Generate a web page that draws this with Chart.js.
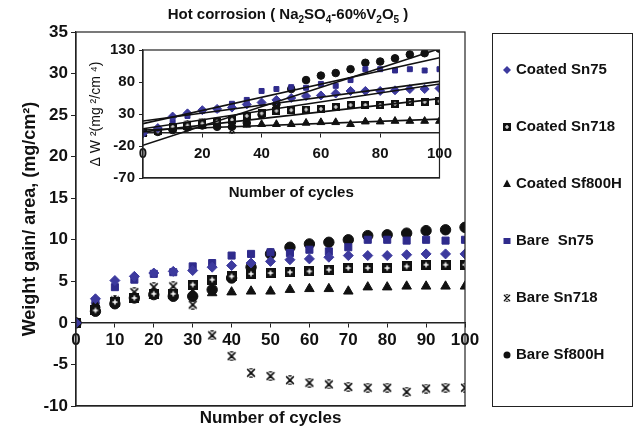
<!DOCTYPE html>
<html><head><meta charset="utf-8">
<script src="https://cdn.jsdelivr.net/npm/chart.js@4"></script>
<style>
html,body{margin:0;padding:0;background:#fff;}
#wrap{position:relative;width:638px;height:432px;overflow:hidden;background:#fff;}
#main{position:absolute;left:0;top:0;}
#inset{position:absolute;left:85px;top:37px;}
</style></head><body>
<div id="wrap"><canvas id="main" width="638" height="432"></canvas><canvas id="inset" width="375" height="168"></canvas></div>
<script>
// ---------- data ----------
const cycles = [0,5,10,15,20,25,30,35,40,45,50,55,60,65,70,75,80,85,90,95,100];
const seriesNames = ['Coated Sn75','Coated Sn718','Coated Sf800H','Bare  Sn75','Bare Sn718','Bare Sf800H'];
// main chart: weight gain / area (mg/cm2)
const coatedSn75   = [0,2.9,5.1,5.6,6.0,6.2,6.3,6.7,6.9,7.2,7.4,7.6,7.7,7.9,8.1,8.1,8.1,8.2,8.3,8.3,8.3];
const coatedSn718  = [0,1.5,2.5,3.0,3.5,3.5,4.6,5.2,5.6,5.9,6.0,6.1,6.2,6.4,6.6,6.6,6.6,6.8,7.0,7.0,7.0];
const coatedSf800H = [0,2.2,2.6,3.0,3.3,3.3,3.5,3.6,3.7,3.8,3.8,4.0,4.1,4.1,3.8,4.3,4.3,4.4,4.4,4.4,4.4];
const bareSn75     = [0,2.6,4.3,5.2,5.9,6.1,6.8,7.2,8.1,8.3,8.5,8.4,8.8,8.6,9.1,10.0,10.0,9.9,10.0,9.9,10.0];
const bareSn718    = [0,2.0,2.7,3.7,4.3,4.4,2.2,-1.5,-4.0,-6.0,-6.4,-6.9,-7.2,-7.4,-7.7,-7.8,-7.8,-8.3,-7.9,-7.8,-7.8];
const bareSf800H   = [0,1.4,2.3,3.0,3.4,3.2,3.2,4.0,5.4,6.7,8.3,9.1,9.5,9.7,10.0,10.5,10.6,10.8,11.1,11.2,11.5];
// inset: ΔW² (mg²/cm⁴)
const insCoatedSn75   = [0,8,26,31,36,38,40,45,48,52,55,58,59,62,66,66,66,67,69,69,70];
const insCoatedSn718  = [0,3,10,12,15,18,21,27,31,35,36,37,38,41,44,44,44,46,49,49,50];
const insCoatedSf800H = [0,5,7,9,11,12,12,13,14,14,14,16,17,17,14,18,18,19,19,19,19];
const insBareSn75     = [0,7,18,27,35,37,46,52,66,69,72,71,77,74,83,100,100,98,100,98,100];
const insBareSn718    = [0,4,7,14,18,19,5];
const insBareSf800H   = [0,2,5,9,12,10,10,16,29,45,69,83,90,94,100,110,112,117,123,125,132];
// inset trend lines (value at 0 and at 100 cycles)
const trendStart = [19, 2, 5, 15, 7, -19];
const trendEnd   = [81, 54, 22, 118, 77, 132];
const mainTicksY = {min:-10, max:35, step:5};
const insetTicksY = {min:-70, max:130, step:50};

// ---------- styles ----------
const FONT = "'Liberation Sans', Arial, Helvetica, sans-serif";
Chart.defaults.font.family = FONT;
Chart.defaults.color = '#111';
const BLUE1 = '#3d3a9e', BLUE2 = '#2f2b8c', BLK = '#111';

function makeSqPlus(s){
  const c=document.createElement('canvas'); c.width=c.height=s;
  const g=c.getContext('2d'); g.fillStyle=BLK; g.fillRect(0,0,s,s);
  g.strokeStyle='#fff'; g.lineWidth=Math.max(1.2,s/7);
  g.beginPath(); g.moveTo(s*0.25,s/2); g.lineTo(s*0.75,s/2);
  g.moveTo(s/2,s*0.25); g.lineTo(s/2,s*0.75); g.stroke(); return c;
}
function makeAst(s,lw){
  const c=document.createElement('canvas'); c.width=c.height=s;
  const g=c.getContext('2d'); g.strokeStyle=BLK; g.lineWidth=lw; g.lineCap='round';
  const m=lw;
  g.beginPath(); g.moveTo(m,m); g.lineTo(s-m,s-m); g.moveTo(s-m,m); g.lineTo(m,s-m); g.stroke();
  g.lineWidth=lw*0.8;
  g.beginPath(); g.moveTo(s*0.38,lw*0.5); g.lineTo(s*0.62,lw*0.5);
  g.moveTo(s*0.38,s-lw*0.5); g.lineTo(s*0.62,s-lw*0.5);
  g.stroke(); return c;
}
const pts = arr => arr.map((v,i)=>({x:cycles[i], y:v}));

function scat(label, data, style, color, r){
  return {label, data:pts(data), pointStyle:style, pointRadius:r, pointHoverRadius:r,
    backgroundColor:color, borderColor:color, borderWidth:1, showLine:false, xAxisID:'x', yAxisID:'y'};
}

// ---------- main chart ----------
const mainSets = [
  scat(seriesNames[0], coatedSn75, 'rectRot', BLUE1, 5),
  scat(seriesNames[1], coatedSn718, makeSqPlus(10), BLK, 5),
  scat(seriesNames[2], coatedSf800H, 'triangle', BLK, 5.5),
  scat(seriesNames[3], bareSn75, 'rect', BLUE2, 5),
  scat(seriesNames[4], bareSn718, makeAst(10,1.6), BLK, 5),
  scat(seriesNames[5], bareSf800H, 'circle', BLK, 5.2)
];

function drawMarker(ctx, kind, x, y){
  ctx.save();
  if(kind===0){ ctx.fillStyle=BLUE1; ctx.beginPath(); ctx.moveTo(x,y-4); ctx.lineTo(x+4,y); ctx.lineTo(x,y+4); ctx.lineTo(x-4,y); ctx.closePath(); ctx.fill(); }
  else if(kind===1){ ctx.drawImage(makeSqPlus(8), x-4, y-4); }
  else if(kind===2){ ctx.fillStyle=BLK; ctx.beginPath(); ctx.moveTo(x,y-4.5); ctx.lineTo(x+4,y+3); ctx.lineTo(x-4,y+3); ctx.closePath(); ctx.fill(); }
  else if(kind===3){ ctx.fillStyle=BLUE2; ctx.fillRect(x-3.5,y-3,7,6); }
  else if(kind===4){ ctx.drawImage(makeAst(8,1.3), x-4, y-4); }
  else { ctx.fillStyle=BLK; ctx.beginPath(); ctx.arc(x,y,3.5,0,Math.PI*2); ctx.fill(); }
  ctx.restore();
}

const mainDecor = {
  id:'mainDecor',
  afterDraw(chart){
    const ctx=chart.ctx, a=chart.chartArea;
    ctx.save();
    ctx.strokeStyle='#222'; ctx.lineWidth=1.2;
    ctx.strokeRect(a.left, a.top, a.right-a.left, a.bottom-a.top);
    // legend box
    ctx.lineWidth=1; ctx.strokeStyle='#222';
    ctx.strokeRect(492.5, 33.5, 140, 373);
    ctx.font = "bold 15px " + FONT; ctx.fillStyle=BLK; ctx.textBaseline='middle'; ctx.textAlign='left';
    chart.data.datasets.forEach((ds,i)=>{
      const y = 70 + i*57;
      drawMarker(ctx, i, 507, y);
      ctx.fillText(ds.label, 516, y);
    });
    // title with subscripts
    const parts = [['Hot corrosion ( Na',0],['2',1],['SO',0],['4',1],['-60%V',0],['2',1],['O',0],['5',1],[' )',0]];
    const big="bold 15px "+FONT, small="bold 10px "+FONT;
    let w=0; parts.forEach(p=>{ctx.font=p[1]?small:big; w+=ctx.measureText(p[0]).width;});
    let x = 288 - w/2; const ty=15;
    parts.forEach(p=>{ ctx.font=p[1]?small:big; ctx.fillText(p[0], x, p[1]?ty+5:ty); x+=ctx.measureText(p[0]).width; });
    ctx.restore();
  }
};

new Chart(document.getElementById('main'), {
  type:'scatter',
  data:{datasets:mainSets},
  options:{
    responsive:false, animation:false, devicePixelRatio:1,
    layout:{padding:{top:32,right:173,left:0,bottom:0}},
    plugins:{legend:{display:false}, tooltip:{enabled:false}},
    scales:{
      x:{type:'linear', min:0, max:100, position:'bottom',
         ticks:{display:false}, grid:{display:false},
         border:{display:true,color:'#222',width:1.2},
         title:{display:true,text:'Number of cycles',color:BLK,font:{size:17,weight:'bold'},padding:{top:0,bottom:3}},
         afterFit(s){s.height=26;}},
      x0:{type:'linear', axis:'x', position:{y:0}, min:0, max:100,
         ticks:{stepSize:10, font:{size:17,weight:'bold'}, color:BLK, padding:3, maxRotation:0, autoSkip:false},
         grid:{drawOnChartArea:false, drawTicks:true, tickLength:4, color:'#222'},
         border:{display:true,color:'#222',width:1.5}},
      y:{type:'linear', min:mainTicksY.min, max:mainTicksY.max,
         ticks:{stepSize:mainTicksY.step, font:{size:17,weight:'bold'}, color:BLK, padding:3},
         grid:{drawOnChartArea:false, tickLength:5, color:'#222'},
         border:{color:'#222',width:1.2},
         title:{display:true,text:'Weight gain/ area, (mg/cm²)',color:BLK,font:{size:18,weight:'bold'},padding:{top:19,bottom:0}},
         afterFit(s){s.width=76;}}
    }
  },
  plugins:[mainDecor]
});

// ---------- inset chart ----------
const insetSets = [];
trendStart.forEach((s,i)=>{
  insetSets.push({type:'line', label:'trend'+i, data:[{x:0,y:s},{x:100,y:trendEnd[i]}],
    borderColor:BLK, borderWidth:1.6, pointRadius:0, fill:false, xAxisID:'x', yAxisID:'y'});
});
insetSets.push(
  scat(seriesNames[0], insCoatedSn75, 'rectRot', BLUE1, 4.5),
  scat(seriesNames[1], insCoatedSn718, makeSqPlus(8), BLK, 4),
  scat(seriesNames[2], insCoatedSf800H, 'triangle', BLK, 4.5),
  scat(seriesNames[3], insBareSn75, 'rect', BLUE2, 3.5),
  scat(seriesNames[4], insBareSn718, makeAst(8,1.3), BLK, 4),
  scat(seriesNames[5], insBareSf800H, 'circle', BLK, 3.8)
);
const insetBox = {
  id:'insetBox',
  afterDraw(chart){
    const ctx=chart.ctx, a=chart.chartArea;
    ctx.save(); ctx.strokeStyle='#222'; ctx.lineWidth=1.2;
    ctx.strokeRect(a.left, a.top, a.right-a.left, a.bottom-a.top); ctx.restore();
  }
};
new Chart(document.getElementById('inset'), {
  type:'scatter',
  data:{datasets:insetSets},
  options:{
    responsive:false, animation:false, devicePixelRatio:1,
    layout:{padding:{top:11,right:20,left:0,bottom:0}},
    plugins:{legend:{display:false}, tooltip:{enabled:false}},
    scales:{
      x:{type:'linear', min:0, max:100, position:'bottom',
         ticks:{display:false}, grid:{display:false},
         border:{display:true,color:'#222',width:1.2},
         title:{display:true,text:'Number of cycles',color:BLK,font:{size:15,weight:'bold'},padding:{top:0,bottom:3}},
         afterFit(s){s.height=27;}},
      x0:{type:'linear', axis:'x', position:{y:0}, min:0, max:100,
         ticks:{stepSize:20, font:{size:15,weight:'bold'}, color:BLK, padding:8, maxRotation:0, autoSkip:false},
         grid:{drawOnChartArea:false, drawTicks:true, tickLength:4, color:'#222'},
         border:{display:true,color:'#222',width:1.5}},
      y:{type:'linear', min:insetTicksY.min, max:insetTicksY.max,
         ticks:{stepSize:insetTicksY.step, font:{size:15,weight:'bold'}, color:BLK, padding:4},
         grid:{drawOnChartArea:false, tickLength:4, color:'#222'},
         border:{color:'#222',width:1.2},
         title:{display:true,text:'Δ W ²(mg ²/cm ⁴)',color:BLK,font:{size:14,weight:'normal'},padding:{top:3,bottom:0}},
         afterFit(s){s.width=58;}}
    }
  },
  plugins:[insetBox]
});
</script>
</body></html>
